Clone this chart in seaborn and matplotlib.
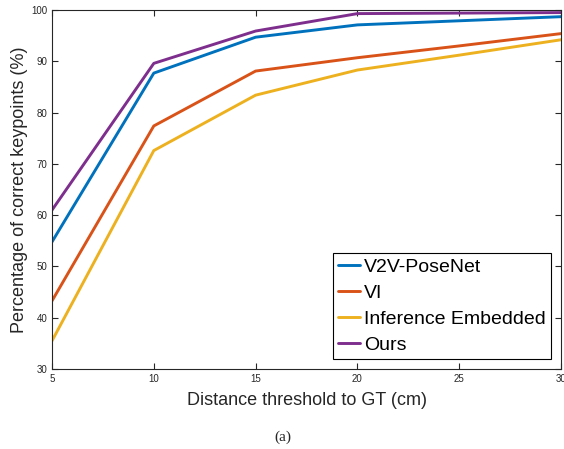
import pandas as pd
import matplotlib.pyplot as plt
import seaborn as sns

# data
thresholds = [5, 10, 15, 20, 25, 30]
v2v_posenet = [54.8, 87.7, 94.7, 97.1, 97.9, 98.7]
vi = [43.3, 77.4, 88.1, 90.7, 93.0, 95.4]
inference_embedded = [35.5, 72.6, 83.4, 88.3, 91.2, 94.2]
ours = [61.0, 89.6, 95.9, 99.3, 99.4, 99.5]

method_names = ["V2V-PoseNet", "VI", "Inference Embedded", "Ours"]
method_values = [v2v_posenet, vi, inference_embedded, ours]
palette = ["#0072BD", "#D95319", "#EDB120", "#7E2F8E"]

rows = []
for name, vals in zip(method_names, method_values):
    for t, v in zip(thresholds, vals):
        rows.append({"Threshold": t, "PCK": v, "Method": name})
df = pd.DataFrame(rows)

sns.set_theme(style="ticks")
plt.rcParams['font.family'] = ['Liberation Sans', 'DejaVu Sans']
axis_grey = "#262626"

fig = plt.figure(figsize=(5.64, 4.49), dpi=100)
ax = fig.add_axes([0.0922, 0.178, 0.9025, 0.7997])

sns.lineplot(data=df, x="Threshold", y="PCK", hue="Method",
             hue_order=method_names, palette=palette, linewidth=2.1,
             ax=ax)

ax.set_xlim(5, 30)
ax.set_ylim(30, 100)
ax.set_xticks([5, 10, 15, 20, 25, 30])
ax.set_yticks([30, 40, 50, 60, 70, 80, 90, 100])
ax.tick_params(direction="in", top=True, right=True, labelsize=7,
               colors=axis_grey, length=4, width=0.8)
for s in ax.spines.values():
    s.set_visible(True)
    s.set_color(axis_grey)
    s.set_linewidth(0.8)

ax.set_xlabel("Distance threshold to GT (cm)", fontsize=13, color=axis_grey, labelpad=6)
ax.set_ylabel("Percentage of correct keypoints (%)", fontsize=13, color=axis_grey, labelpad=2)

leg = ax.legend(loc="lower right", fontsize=14, frameon=True, fancybox=False,
                edgecolor="black", handlelength=1.1, handletextpad=0.2,
                borderpad=0.3, labelspacing=0.42, borderaxespad=0.5,
                labelcolor="black")
leg.get_frame().set_linewidth(0.8)
leg.get_frame().set_alpha(1)

fig.text(0.502, 0.027, "(a)", ha="center", va="center", fontsize=11,
         family=["Liberation Serif", "DejaVu Serif"])

fig.savefig("out.png", dpi=100)
